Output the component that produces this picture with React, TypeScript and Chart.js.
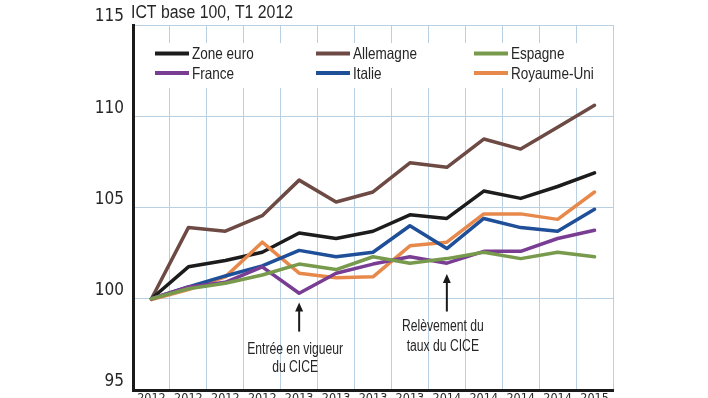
import React, { useEffect, useRef } from "react";
import { Chart, registerables } from "chart.js";

Chart.register(...registerables);

const categories = ["2012", "2012", "2012", "2012", "2013", "2013", "2013", "2013", "2014", "2014", "2014", "2014", "2015"];

const zoneEuro = [100, 101.75, 102.1, 102.55, 103.6, 103.3, 103.7, 104.6, 104.4, 105.9, 105.5, 106.15, 106.9];
const allemagne = [100, 103.9, 103.7, 104.55, 106.5, 105.3, 105.85, 107.45, 107.2, 108.75, 108.2, 109.4, 110.6];
const espagne = [100, 100.55, 100.85, 101.3, 101.9, 101.6, 102.3, 101.95, 102.2, 102.55, 102.2, 102.55, 102.3];
const france = [100, 100.65, 100.9, 101.75, 100.3, 101.4, 101.9, 102.3, 101.95, 102.6, 102.6, 103.3, 103.75];
const italie = [100, 100.65, 101.25, 101.8, 102.65, 102.3, 102.55, 104.0, 102.75, 104.4, 103.9, 103.7, 104.9];
const royaumeUni = [99.95, 100.5, 101.2, 103.1, 101.4, 101.15, 101.2, 102.9, 103.1, 104.65, 104.65, 104.35, 105.85];

const seriesNames = ["Zone euro", "Allemagne", "Espagne", "France", "Italie", "Royaume-Uni"];
const seriesColors = ["#1c1c1c", "#6d4a44", "#789a4c", "#7a3d94", "#1e4f98", "#e8894c"];

const yTicks = [95, 100, 105, 110, 115];
const titleText = "ICT base 100, T1 2012";

// annotations: category index, arrow tip value, arrow tail value, text lines with value positions
const annotations = [
  { index: 4, tip: 99.8, tail: 98.2, lines: ["Entrée en vigueur", "du CICE"], lineValues: [97.2, 96.25] },
  { index: 8, tip: 101.35, tail: 99.3, lines: ["Relèvement du", "taux du CICE"], lineValues: [98.45, 97.4] },
];

const TICK_FONT = '"DejaVu Sans Condensed", "Liberation Sans", Arial, sans-serif';
const TEXT_FONT = '"Liberation Sans", Arial, sans-serif';
const TEXT = "#262626";

function narrowText(ctx: any, text: string, x: number, y: number, size: number, sx: number, align: string) {
  ctx.save();
  ctx.font = `${size}px ${TEXT_FONT}`;
  ctx.textAlign = align;
  ctx.translate(x, y);
  ctx.scale(sx, 1);
  ctx.fillText(text, 0, 0);
  ctx.restore();
}

const extrasPlugin = {
  id: "extras",
  beforeDatasetsDraw(chart: any) {
    const { ctx, chartArea } = chart;
    ctx.save();
    // legend box
    ctx.fillStyle = "#ffffff";
    ctx.fillRect(chartArea.left + 2, 43, chartArea.right - chartArea.left - 3, 45);
    ctx.textBaseline = "middle";
    const colX = [155, 316, 474];
    const rowY = [53.5, 73];
    seriesNames.forEach((name, i) => {
      const col = i % 3;
      const row = Math.floor(i / 3);
      const x = colX[col];
      const y = rowY[row];
      ctx.strokeStyle = seriesColors[i];
      ctx.lineWidth = 4;
      ctx.beginPath();
      ctx.moveTo(x, y);
      ctx.lineTo(x + 34, y);
      ctx.stroke();
      ctx.fillStyle = TEXT;
      narrowText(ctx, name, x + 37, y + 1, 16.5, 0.82, "left");
    });
    ctx.restore();
  },
  afterDraw(chart: any) {
    const { ctx, scales } = chart;
    const xs = scales.x;
    const ys = scales.y;
    ctx.save();
    // title
    ctx.fillStyle = TEXT;
    ctx.textBaseline = "alphabetic";
    narrowText(ctx, titleText, 131, 18, 18, 0.88, "left");
    // annotations
    annotations.forEach((a) => {
      const x = xs.getPixelForValue(a.index);
      const yTip = ys.getPixelForValue(a.tip);
      const yTail = ys.getPixelForValue(a.tail);
      ctx.strokeStyle = "#1a1a1a";
      ctx.fillStyle = "#1a1a1a";
      ctx.lineWidth = 2;
      ctx.beginPath();
      ctx.moveTo(x, yTip + 6);
      ctx.lineTo(x, yTail);
      ctx.stroke();
      ctx.beginPath();
      ctx.moveTo(x, yTip);
      ctx.lineTo(x - 4, yTip + 9);
      ctx.lineTo(x + 4, yTip + 9);
      ctx.closePath();
      ctx.fill();
      ctx.fillStyle = TEXT;
      ctx.textBaseline = "middle";
      a.lines.forEach((t, j) => {
        narrowText(ctx, t, x - 4, ys.getPixelForValue(a.lineValues[j]), 16, 0.76, "center");
      });
    });
    ctx.restore();
  },
};

export default function App() {
  const ref = useRef<HTMLCanvasElement | null>(null);
  useEffect(() => {
    if (!ref.current) return;
    const dataArrays = [zoneEuro, allemagne, espagne, france, italie, royaumeUni];
    const order = [2, 3, 4, 5, 0, 1];
    const chart = new Chart(ref.current, {
      type: "line",
      data: {
        labels: categories,
        datasets: order.map((i) => ({
          label: seriesNames[i],
          data: dataArrays[i],
          borderColor: seriesColors[i],
          backgroundColor: seriesColors[i],
          borderWidth: 3.5,
          pointRadius: 0,
          tension: 0,
          borderJoinStyle: "round" as const,
          borderCapStyle: "round" as const,
        })),
      },
      options: {
        animation: false,
        responsive: false,
        maintainAspectRatio: false,
        layout: { padding: { left: 0, right: 95, top: 25, bottom: 0 } },
        plugins: { legend: { display: false }, tooltip: { enabled: false }, title: { display: false } },
        scales: {
          x: {
            type: "category",
            offset: true,
            grid: { offset: true, color: "#b9d0e2", lineWidth: 1, drawTicks: false },
            border: { color: "#1a1a1a", width: 3 },
            ticks: { color: TEXT, font: { size: 12.5, family: TICK_FONT }, padding: 1, maxRotation: 0, autoSkip: false },
            afterFit: (s: any) => {
              s.height = 20;
            },
          },
          y: {
            min: 95,
            max: 115,
            afterBuildTicks: (s: any) => {
              s.ticks = yTicks.map((v) => ({ value: v }));
            },
            grid: { color: "#b9d0e2", lineWidth: 1, drawTicks: false },
            border: { color: "#1a1a1a", width: 3 },
            ticks: { color: TEXT, font: { size: 17, family: TICK_FONT }, padding: 9, labelOffset: -8 },
            afterFit: (s: any) => {
              s.width = 133;
            },
          },
        },
      },
      plugins: [extrasPlugin],
    });
    return () => chart.destroy();
  }, []);
  return (
    <div style={{ position: "fixed", left: 0, top: 0, width: 708, height: 398, overflow: "hidden", background: "#fff" }}>
      <canvas ref={ref} width={708} height={410} style={{ display: "block", width: 708, height: 410 }} />
    </div>
  );
}
